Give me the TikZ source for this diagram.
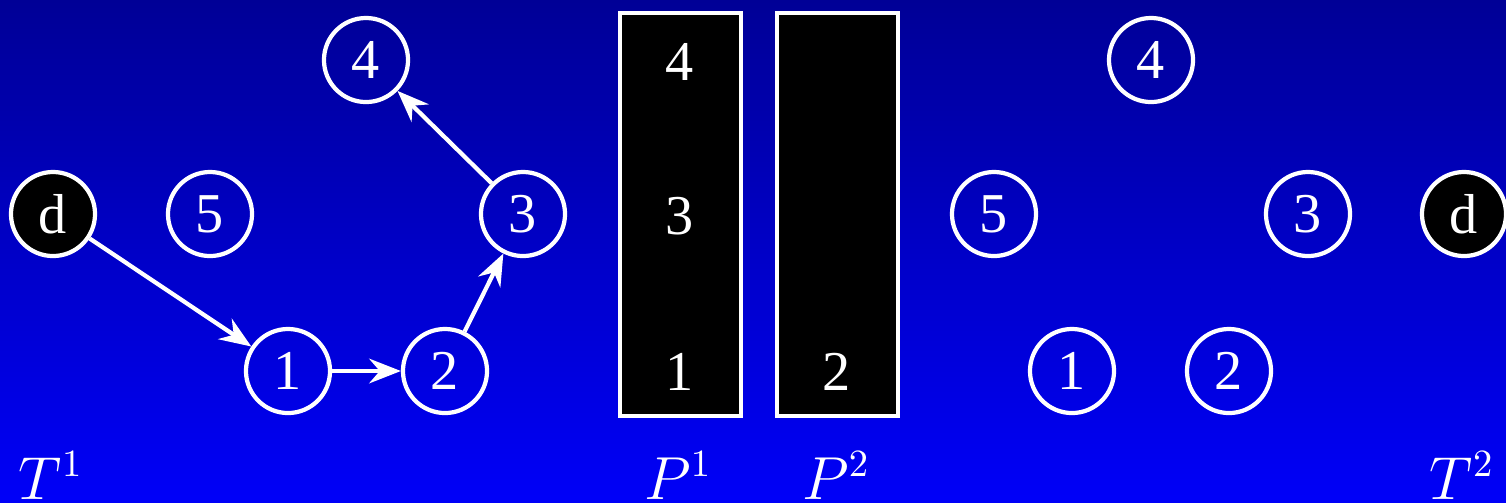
\documentclass[tikz,border=0pt]{standalone}
\usepackage{fontspec}
\setmainfont{Liberation Serif}
\usetikzlibrary{arrows.meta}
\begin{document}
\begin{tikzpicture}[x=0.01cm,y=-0.01cm,
  every node/.style={text=white,font=\fontsize{16}{19}\selectfont},
  vert/.style={circle,draw=white,line width=1.2pt,minimum size=0.84cm,inner sep=0pt},
  dark/.style={vert,fill=black},
  stack/.style={draw=white,line width=1.2pt,fill=black},
  conn/.style={draw=white,line width=1.2pt,-{Stealth[length=9pt,width=7pt,inset=3pt]}},
  lbl/.style={anchor=base,inner sep=0pt}]
\shade[top color={rgb,255:red,0;green,0;blue,150},bottom color={rgb,255:red,0;green,0;blue,248}] (0,0) rectangle (1506,502);
\useasboundingbox (0,0) rectangle (1506,502);
% left tree T1
\node[dark] (ld) at (53,214) {d};
\node[vert] (l5) at (210,214) {5};
\node[vert] (l4) at (366,60) {4};
\node[vert] (l3) at (523,214) {3};
\node[vert] (l1) at (288,371) {1};
\node[vert] (l2) at (445,371) {2};
\draw[conn] (ld) -- (l1);
\draw[conn] (l1) -- (l2);
\draw[conn] (l2) -- (l3);
\draw[conn] (l3) -- (l4);
% stacks
\draw[stack] (620,13) rectangle (741,416);
\draw[stack] (777,13) rectangle (898,416);
\node (p14) at (680,62) {4};
\node (p13) at (680,216) {3};
\node (p11) at (680,372) {1};
\node (p22) at (837,372) {2};
% right tree T2
\node[vert] (r4) at (1151,60) {4};
\node[vert] (r5) at (994,214) {5};
\node[vert] (r3) at (1308,214) {3};
\node[dark] (rd) at (1464,214) {d};
\node[vert] (r1) at (1072,371) {1};
\node[vert] (r2) at (1229,371) {2};
% labels
\node[lbl] (t1) at (51,499) {$T^1$};
\node[lbl] (pl1) at (678,499) {$P^1$};
\node[lbl] (pl2) at (836,499) {$P^2$};
\node[lbl] (t2) at (1462,499) {$T^2$};
\end{tikzpicture}
\end{document}
